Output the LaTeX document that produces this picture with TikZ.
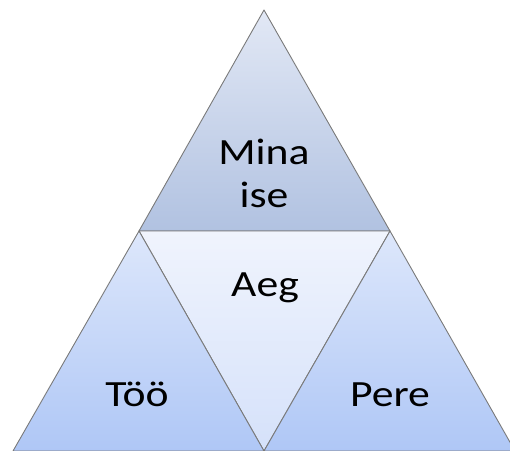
\documentclass[tikz,border=0pt]{standalone}
\usepackage{fontspec}
\setmainfont{Carlito}
\usepackage{tikz}

\definecolor{topA}{HTML}{E2E8F5}
\definecolor{topB}{HTML}{B1C2E1}
\definecolor{midA}{HTML}{F0F4FD}
\definecolor{midB}{HTML}{D5E1FA}
\definecolor{lowA}{HTML}{DDE7FB}
\definecolor{lowB}{HTML}{AFC7F6}
\definecolor{edge}{HTML}{7A7A7A}

% wide text, as in the reference
\newcommand{\wide}[1]{\scalebox{1.18}[1]{#1}}

\begin{document}
\begin{tikzpicture}[x=1pt, y=1pt,
                    part/.style={draw=edge, line width=0.9pt, line join=round},
                    label/.style={font=\fontsize{37}{43}\selectfont, align=center, inner sep=0pt}]
                    \useasboundingbox (0,0) rectangle (510,450);
                    % Corners
                    \coordinate (apex) at (264,440);
                    \coordinate (left) at (139,219);
                    \coordinate (right) at (390,219);
                    \coordinate (botL) at (13,-1);
                    \coordinate (botM) at (264,-1);
                    \coordinate (botR) at (515,-1);

                    % Triangles
                    \path[part, top color=topA, bottom color=topB] (apex) -- (left) -- (right) -- cycle;
                    \path[part, top color=midA, bottom color=midB] (left) -- (right) -- (botM) -- cycle;
                    \path[part, top color=lowA, bottom color=lowB] (left) -- (botL) -- (botM) -- cycle;
                    \path[part, top color=lowA, bottom color=lowB] (right) -- (botM) -- (botR) -- cycle;

                    % Labels
                    \node[label, anchor=base] (mina) at (264,285) {\wide{Mina}};
                    \node[label, anchor=base] (ise) at (264,242) {\wide{ise}};
                    \node[label, anchor=base] (aeg) at (265,154) {\wide{Aeg}};
                    \node[label, anchor=base] (too) at (137,44) {\wide{Töö}};
                    \node[label, anchor=base] (pere) at (390,44) {\wide{Pere}};
                \end{tikzpicture}
\end{document}
